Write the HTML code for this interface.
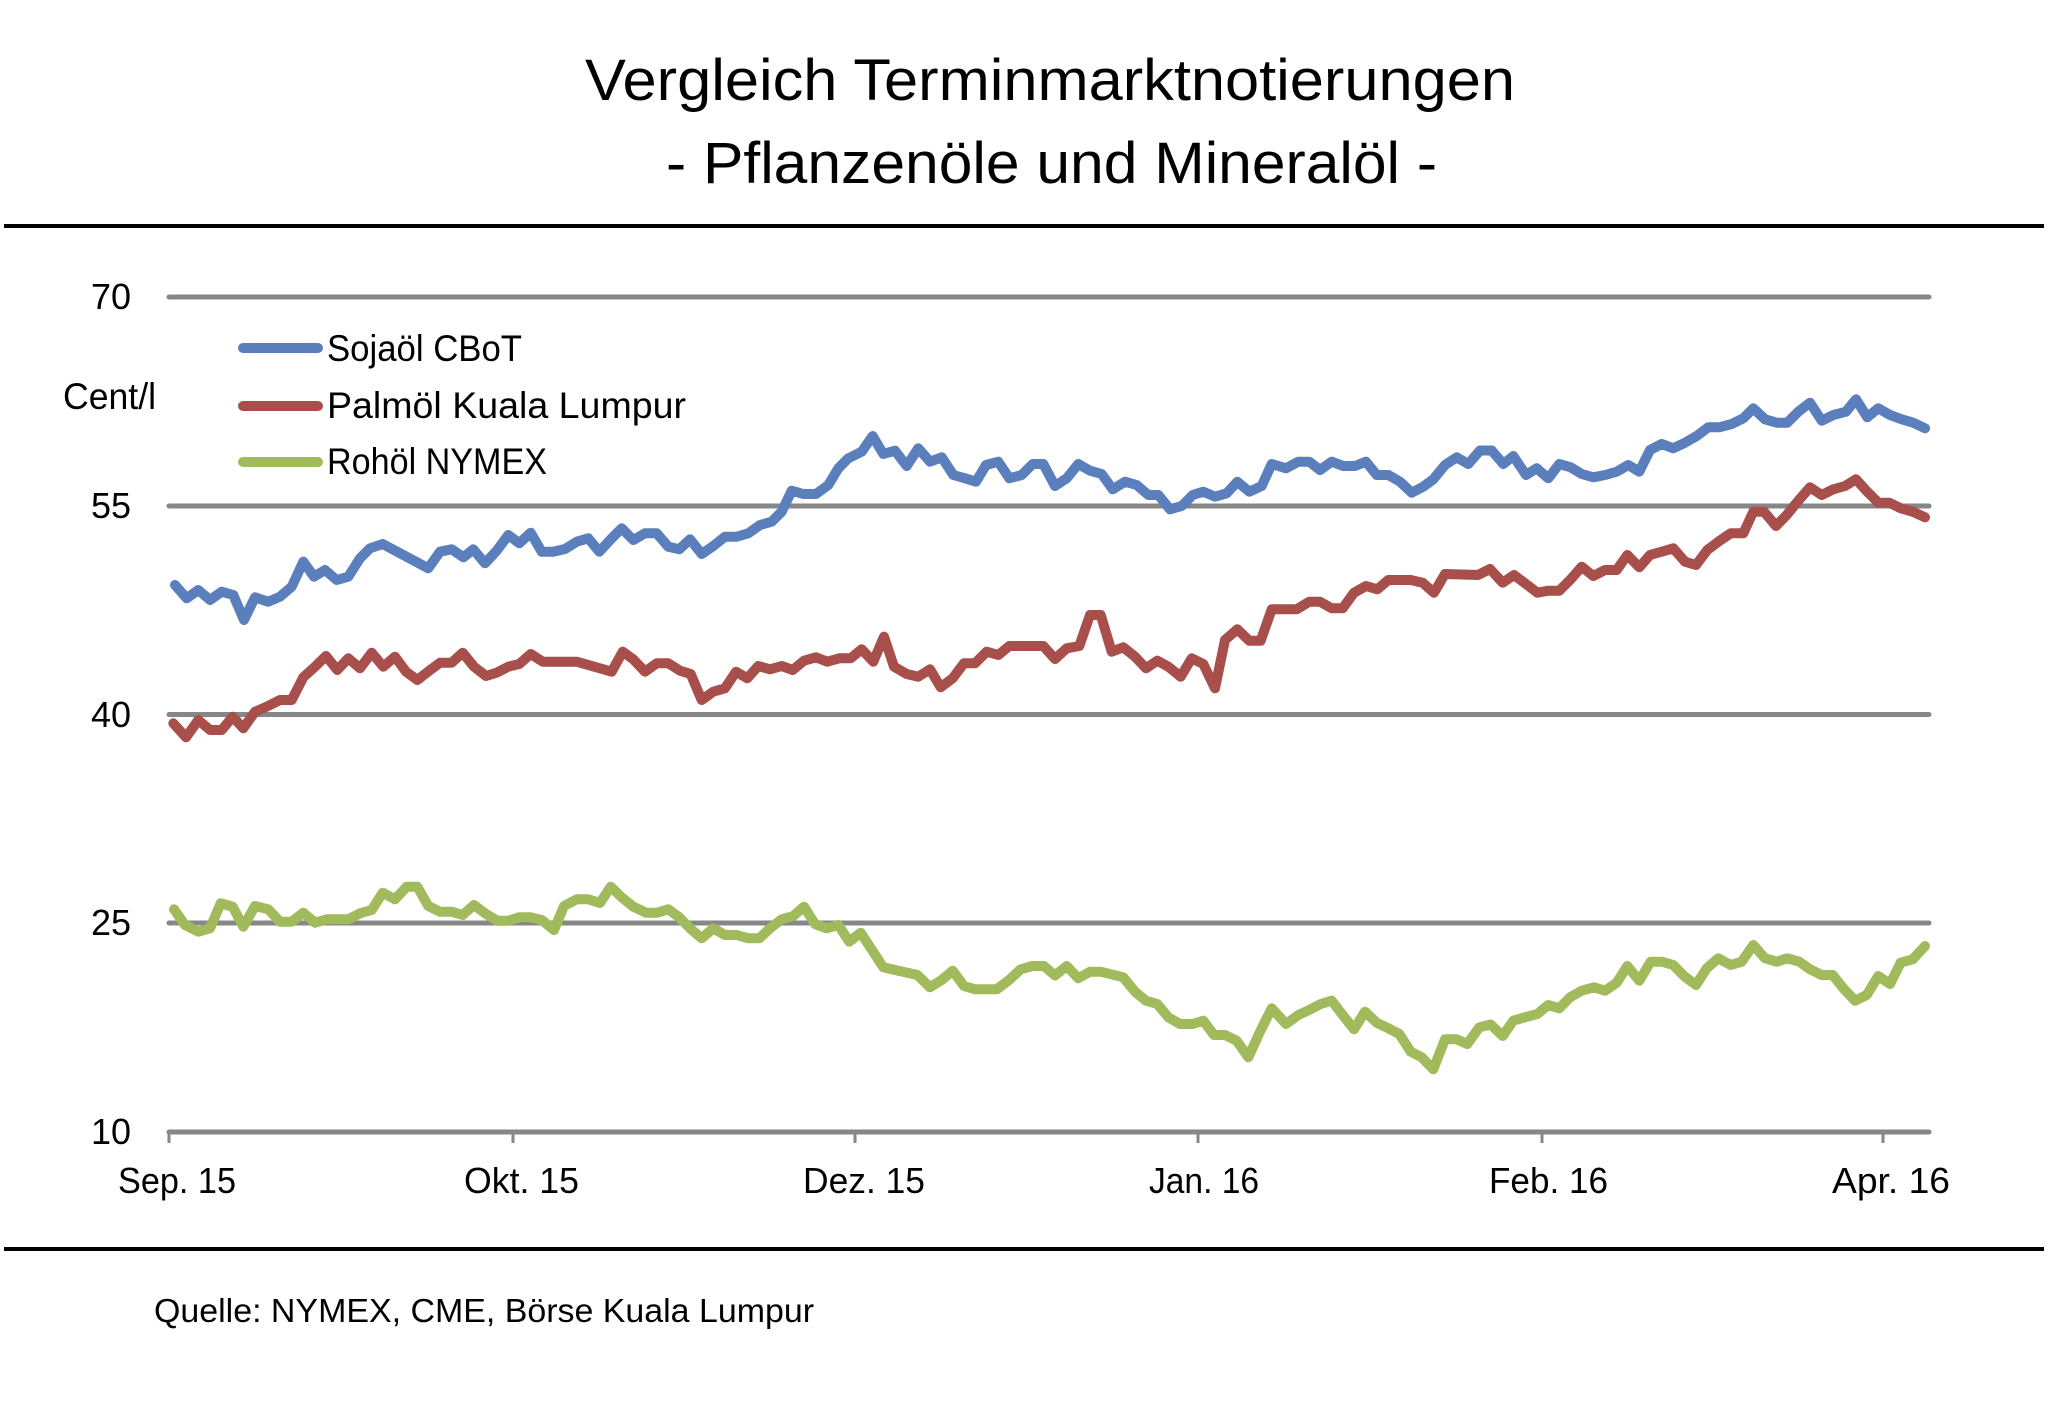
<!DOCTYPE html>
<html>
<head>
<meta charset="utf-8">
<style>
  html,body{margin:0;padding:0;background:#fff;}
  svg{display:block;}
  text{font-family:"Liberation Sans","DejaVu Sans",sans-serif;fill:#000;}
</style>
</head>
<body>
<svg width="2048" height="1401" viewBox="0 0 2048 1401" xmlns="http://www.w3.org/2000/svg">
  <rect x="0" y="0" width="2048" height="1401" fill="#fff"/>

  <!-- Title -->
  <text x="585" y="100" font-size="58" textLength="930" lengthAdjust="spacingAndGlyphs">Vergleich Terminmarktnotierungen</text>
  <text x="666" y="183" font-size="58" textLength="771" lengthAdjust="spacingAndGlyphs">- Pflanzenöle und Mineralöl -</text>

  <!-- Rules -->
  <rect x="4" y="224" width="2040" height="4" fill="#000"/>
  <rect x="4" y="1247" width="2040" height="4" fill="#000"/>

  <!-- Gridlines -->
  <g stroke="#878787" stroke-width="5" stroke-linecap="round">
    <line x1="169" y1="297" x2="1929" y2="297"/>
    <line x1="169" y1="506" x2="1929" y2="506"/>
    <line x1="169" y1="714.5" x2="1929" y2="714.5"/>
    <line x1="169" y1="923" x2="1929" y2="923"/>
    <line x1="169" y1="1132" x2="1929" y2="1132"/>
  </g>
  <!-- Ticks -->
  <g stroke="#878787" stroke-width="3">
    <line x1="169" y1="1132" x2="169" y2="1143"/>
    <line x1="513" y1="1132" x2="513" y2="1143"/>
    <line x1="855" y1="1132" x2="855" y2="1143"/>
    <line x1="1198" y1="1132" x2="1198" y2="1143"/>
    <line x1="1542" y1="1132" x2="1542" y2="1143"/>
    <line x1="1883" y1="1132" x2="1883" y2="1143"/>
  </g>

  <!-- Y labels -->
  <g font-size="36" text-anchor="end">
    <text x="131" y="309">70</text>
    <text x="131" y="518">55</text>
    <text x="131" y="727">40</text>
    <text x="131" y="935">25</text>
    <text x="131" y="1144">10</text>
  </g>
  <text x="63" y="409" font-size="37" textLength="93" lengthAdjust="spacingAndGlyphs">Cent/l</text>

  <!-- X labels -->
  <g font-size="36">
    <text x="118" y="1193" textLength="118" lengthAdjust="spacingAndGlyphs">Sep. 15</text>
    <text x="464" y="1193" textLength="115" lengthAdjust="spacingAndGlyphs">Okt. 15</text>
    <text x="803" y="1193" textLength="122" lengthAdjust="spacingAndGlyphs">Dez. 15</text>
    <text x="1149" y="1193" textLength="110" lengthAdjust="spacingAndGlyphs">Jan. 16</text>
    <text x="1489" y="1193" textLength="119" lengthAdjust="spacingAndGlyphs">Feb. 16</text>
    <text x="1832" y="1193" textLength="118" lengthAdjust="spacingAndGlyphs">Apr. 16</text>
  </g>

  <!-- Legend -->
  <g stroke-width="10" stroke-linecap="round">
    <line x1="243" y1="348" x2="318" y2="348" stroke="#5B7FBC"/>
    <line x1="243" y1="406" x2="318" y2="406" stroke="#A84F4C"/>
    <line x1="243" y1="462" x2="318" y2="462" stroke="#A1BA5B"/>
  </g>
  <g font-size="37">
    <text x="327" y="361" textLength="195" lengthAdjust="spacingAndGlyphs">Sojaöl CBoT</text>
    <text x="327" y="418" textLength="359" lengthAdjust="spacingAndGlyphs">Palmöl Kuala Lumpur</text>
    <text x="327" y="474" textLength="220" lengthAdjust="spacingAndGlyphs">Rohöl NYMEX</text>
  </g>

  <!-- Series -->
  <g fill="none" stroke-width="10" stroke-linejoin="round" stroke-linecap="round">
    <polyline stroke="#5B7FBC" points="175,585 186.7,598.3 198.3,590 210,600 221.7,591.7 233.3,595 244,620 255,597.3 268.3,601.7 280,596.7 291.7,586.7 303.3,561.7 314,576.7 325,570 336.7,580 348.3,576.7 360,558.3 370,548.3 382.7,544 428.3,568.3 440,551.7 451.7,549.3 463.3,557.3 473.3,549.3 485,563.3 496.7,550.7 508.3,535 519.3,543.3 530.7,532.7 541.7,551.7 553.3,551.7 565,549 576.7,541.7 588.3,538.3 599.3,551.7 611.7,538.3 621.7,528.3 633.3,540 645,533.3 656.7,533.3 668.3,546.7 679.3,549.3 690,539.3 701.7,554 713.3,546 725,536.7 736.7,536.7 748.3,533.3 760,525 771.7,521.7 781.7,511.7 791.7,490.7 803.3,494 816,494 828.3,485 838.3,468.3 848.3,458.3 861.7,451.7 872.7,436 883.3,454 895,450.7 906.7,466 918.3,448.3 930,461.7 941.7,457.3 953.3,475 965,478.3 976,481.7 986,465 998.3,461.7 1009.3,478.3 1021.7,475 1032.7,464 1043.3,464 1055,486 1066.7,478.3 1078.3,464 1090,470.7 1101.7,474 1112.7,489.3 1125,481.7 1136.7,485 1148.3,495 1158.3,495 1170,509.3 1181.7,506 1192.7,495 1203.3,491.7 1215,496.7 1226.7,493.3 1237.3,481.7 1249.3,491.7 1261.7,486 1271.7,464 1286,468.3 1298.3,461.7 1309.3,461.7 1320,470 1331.7,461.7 1343.3,466 1355,466 1366,461.7 1376.7,475 1388.3,475 1400,481.7 1411.7,492.7 1423.3,486.7 1433.3,479.3 1445,465 1456.7,457.3 1468.3,464 1480,450.5 1491.7,450.5 1503.3,464 1513.3,456 1526,475 1536.7,468.3 1548.3,478.3 1559.3,464 1570.7,467.3 1581.7,474 1593.3,477.3 1605,475 1616.7,471.7 1628.3,465 1639.3,471.7 1650,450 1661.7,444 1673.3,448.3 1685,442.7 1696.7,436 1708.3,427.3 1719.3,427.3 1731.7,424 1743.3,418.3 1753.3,408.3 1765,419.3 1776.7,422.7 1787.3,422.7 1798.3,411.7 1810,402.7 1821.7,420.7 1833.3,415 1846,411.7 1856,399.3 1867.3,417.3 1878.3,408.3 1890,415 1901.7,419.3 1913.3,422.7 1925,428.3"/>
    <polyline stroke="#A84F4C" points="173.3,723.3 186,737.3 198.3,720 210,730 221.7,730 232.7,716.7 243.3,728.3 255,711.7 266.7,706.7 280,700 291.7,700 303.3,677.3 315,666.7 326,656 337.3,670 348.3,658.3 360,668.3 371.7,652.7 383.3,666.7 395,656.7 406,671.7 417.3,680 429.3,670.7 440,662.7 451.7,662.7 462.7,652.7 474,666.7 486,676 496.7,672.7 508.3,666.7 519.3,664 530.7,654 542.7,661.7 576.7,661.7 611.7,671.7 622.7,651.7 633.3,659.3 645,671.7 656.7,663.3 668.3,663.3 680,670.7 690.7,674 701.7,700 713.3,691.7 725,688.3 736,671.7 747.3,678.3 758.3,666 770,669.3 781.7,666 792.7,670 804,660.7 816,657.3 827.3,661.7 839.3,658.3 850.7,658.3 861.7,649.3 873.3,661.7 884,636.7 894,666.7 906.7,674 918.3,676.7 930,669.3 940.7,687.3 952.7,678.3 964,663.3 975,663.3 986.7,651.7 998.3,655 1009.3,646 1043.3,646 1055,659 1066.7,648.3 1079.3,646 1090,615 1100.7,615 1111.7,651.7 1123.3,647.3 1135,656.7 1146,668.3 1157.3,660.7 1168.3,666.7 1180.7,676.7 1191.7,658.3 1203.3,664 1215,688.3 1225,640 1237.3,629.3 1249.3,640.7 1260.7,640.7 1271.7,609.3 1296.7,609.3 1309.3,601.7 1320,601.7 1331.7,608.3 1342.7,608.3 1354,592.7 1366,586 1377.3,589.3 1388.3,580 1410.7,580 1422.7,582.7 1434,592.7 1445,574 1478,575 1490,569 1502.7,582.7 1514,575 1526,584 1537.3,592.7 1548.3,590.7 1559.3,590.7 1570.7,579.3 1581.7,566.7 1593.3,576 1605,570 1616.7,570 1627.3,555 1639.3,567.3 1650,555 1661.7,551.7 1673.3,548.3 1685,561.7 1696,565 1707.3,550 1718.3,541.7 1730.7,533.3 1743.3,533.3 1753.3,511.7 1764,511.7 1776,526 1786.7,515 1798.3,500.7 1810,487.3 1821.7,495 1833.3,489.3 1845,486 1856,479.3 1867.3,491.7 1878.3,502.7 1889.3,502.7 1900.7,508.3 1912.7,511.7 1925,517.3"/>
    <polyline stroke="#A1BA5B" points="174,909.3 185,925 198.3,931.7 210,928.3 220.7,903.3 232.7,906.7 243.3,926.7 255,906 268.3,909.3 280,921.7 291.7,921.7 303.3,912.7 315,922.7 326.7,919.3 348.3,919.3 360,913.3 371.7,910 382.7,892.7 395,899.3 406.7,886.7 417.3,886.7 428.3,906 440,911.7 451.7,911.7 462.7,915 474,905 486,914 497.3,920.7 508.3,920.7 519.3,917.3 530.7,917.3 541.7,920 554,930 564,906 576.7,899.3 588.3,899.3 600,903 610.7,886.7 621.7,897.3 633.3,906.7 646,912.7 657.3,912.7 668.3,909.3 679.3,917.3 690,928.3 701.7,938.3 713.3,928.3 725,935 736.7,935 748.3,938.3 759.3,938.3 770,928.3 781.7,919.3 793.3,916 804,906.7 815,924 826.7,928.3 838.3,925 849.3,941.7 860.7,932.7 883.3,967.3 917.3,975 930,987.3 941.7,980 952.7,970.7 964,986 975,989.3 996.7,989.3 1008.3,980.7 1020.7,969.3 1032.7,966 1044,966 1055,975.5 1066.7,966 1078.3,978.3 1090,971.7 1100.7,971.7 1123.3,977.3 1135,991.7 1146,1000.7 1157.3,1004 1168.3,1017.3 1180,1024 1192.7,1024 1203.3,1020.7 1214,1035 1225,1035 1236.7,1040.7 1248.3,1057.3 1260,1031.7 1271.7,1008.3 1286,1024 1298.3,1015 1309.3,1010 1320.7,1004 1331.7,1000.7 1342.7,1015 1354,1029.3 1365,1011.7 1376.7,1022.7 1388.3,1028.3 1399.3,1034 1410.7,1051.7 1421.7,1057.3 1433.3,1069.3 1445,1039.3 1456.7,1039.3 1467.3,1044 1479.3,1027.3 1490.7,1024.5 1502.7,1036 1513.3,1020.7 1525,1017.3 1537.3,1014 1548.3,1005 1559.3,1008.3 1570,997.3 1581.7,990.7 1594,987.3 1605,990.7 1616.7,982.7 1627.3,966 1639.3,980.7 1650.7,961.7 1661.7,961.7 1673.3,965 1684,976 1696,985 1706.7,968.3 1718.3,958.3 1730.7,965 1741.7,961.7 1753.3,945 1765,958.3 1776.7,961.7 1787.3,958.3 1799.3,961.7 1810,969.3 1821.7,975 1832.7,975 1843.3,988.3 1855,1000.7 1866.7,995 1878.3,976 1890,984 1900.7,962.7 1912.7,959.3 1925,946"/>
  </g>

  <!-- Source -->
  <text x="154" y="1322" font-size="33" textLength="660" lengthAdjust="spacingAndGlyphs">Quelle: NYMEX, CME, Börse Kuala Lumpur</text>
</svg>
</body>
</html>
